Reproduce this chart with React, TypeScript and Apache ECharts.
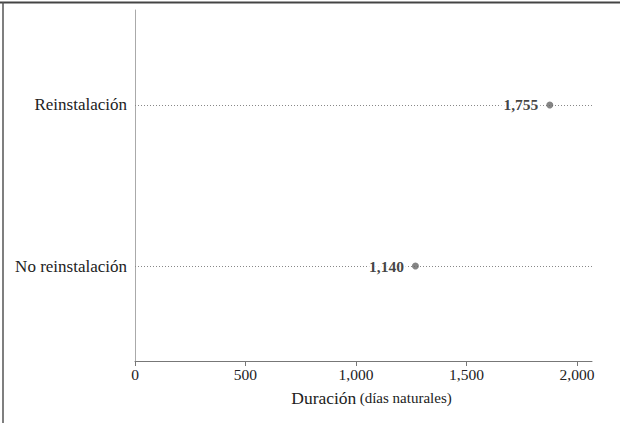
import React, { useEffect, useRef } from "react";
import * as echarts from "echarts";

const categories = ["No reinstalación", "Reinstalación"];
const dotPositions = [1269, 1877];
const labelTexts = ["1,140", "1,755"];
const xTicks = [0, 500, 1000, 1500, 2000];

const SERIF = "'Liberation Serif', 'Times New Roman', serif";

export default function App() {
  const ref = useRef<HTMLDivElement>(null);
  useEffect(() => {
    if (!ref.current) return;
    const chart = echarts.init(ref.current, null, { renderer: "svg" });
    const catIndex = categories.map((_, i) => i + 1);
    chart.setOption({
      animation: false,
      backgroundColor: "#ffffff",
      grid: { left: 135, right: 32, top: 10, bottom: 66 },
      xAxis: {
        type: "value",
        min: 0,
        max: 2068,
        splitLine: { show: false },
        axisLine: { show: true, lineStyle: { color: "#777", width: 1 } },
        axisTick: { show: true, length: 5, customValues: xTicks, lineStyle: { color: "#777" } },
        axisLabel: {
          customValues: xTicks,
          fontFamily: SERIF,
          fontSize: 15.5,
          color: "#222",
          margin: 5,
          formatter: (v: number) => v.toLocaleString("en-US"),
        },
        name: "{a|Duración} {b|(días naturales)}",
        nameLocation: "middle",
        nameGap: 28,
        nameTextStyle: {
          rich: {
            a: { fontFamily: SERIF, fontSize: 17.5, color: "#222" },
            b: { fontFamily: SERIF, fontSize: 15, color: "#222" },
          },
          padding: [0, 0, 0, 16],
        },
      },
      yAxis: {
        type: "value",
        min: 0.41,
        max: 2.59,
        splitLine: { show: false },
        axisLine: { show: true, lineStyle: { color: "#aaa", width: 1 } },
        axisTick: { show: false },
        axisLabel: {
          customValues: catIndex,
          fontFamily: SERIF,
          fontSize: 17,
          color: "#222",
          margin: 8,
          formatter: (v: number) => categories[Math.round(v) - 1] ?? "",
        },
      },
      series: [
        {
          type: "scatter",
          symbol: "circle",
          symbolSize: 7,
          itemStyle: { color: "#666" },
          data: dotPositions.map((x, i) => ({
            value: [x, catIndex[i]],
            label: {
              show: true,
              position: "left",
              distance: 6,
              formatter: labelTexts[i],
              fontFamily: SERIF,
              fontSize: 15.5,
              fontWeight: "bold",
              color: "#111",
              backgroundColor: "#ffffff",
              padding: [1, 2, 1, 2],
            },
          })),
          markLine: {
            silent: true,
            symbol: "none",
            label: { show: false },
            lineStyle: { color: "#888", type: [1, 2], width: 1 },
            data: catIndex.map((y) => ({ yAxis: y })),
            z: 1,
          },
          z: 5,
        },
      ],
      graphic: [
        { type: "line", shape: { x1: 0, y1: 2.5, x2: 620, y2: 2.5 }, style: { stroke: "#444", lineWidth: 2 } },
        { type: "line", shape: { x1: 3, y1: 2, x2: 3, y2: 423 }, style: { stroke: "#555", lineWidth: 1.5 } },
      ],
    });
    return () => chart.dispose();
  }, []);
  return <div ref={ref} style={{ width: 624, height: 427, position: "absolute", left: 0, top: 0 }} />;
}
